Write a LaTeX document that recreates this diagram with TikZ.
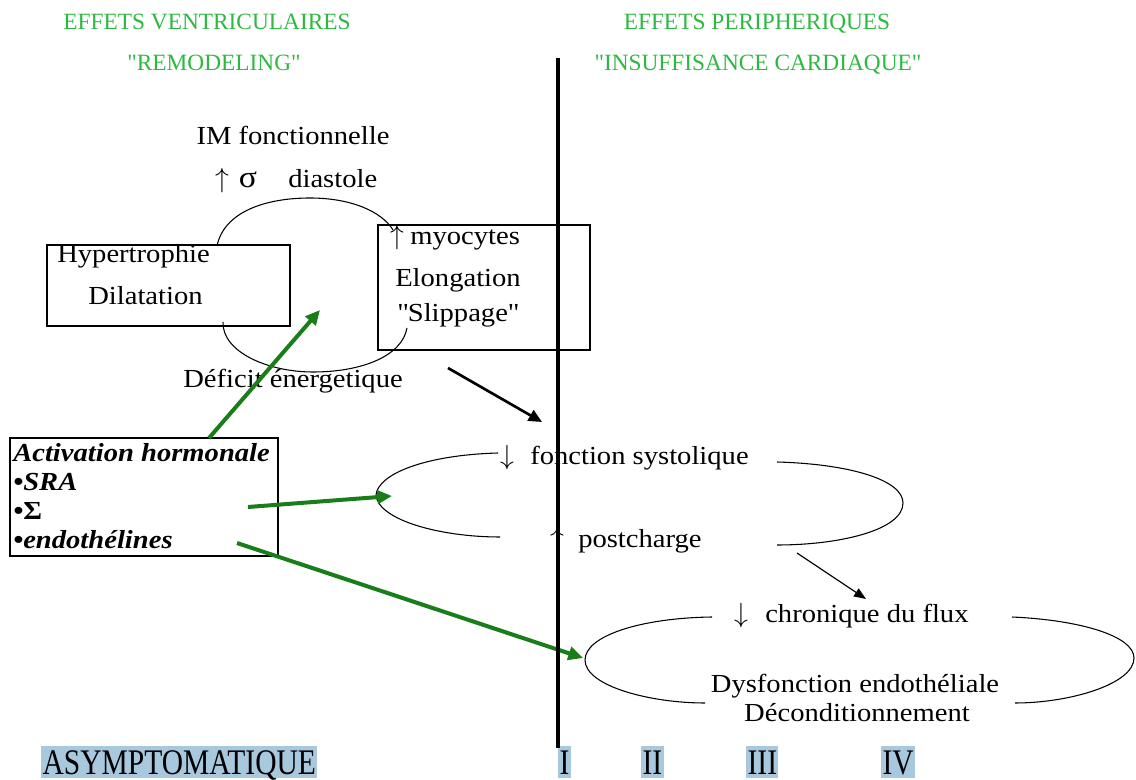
\documentclass[tikz,border=0pt]{standalone}
\usepackage{fontspec}
\setmainfont{Liberation Serif}[FakeStretch=1.1]
\newfontfamily\hdrfont{Liberation Serif}
\newfontfamily\condfont{Liberation Serif}[FakeStretch=0.82]
\usetikzlibrary{arrows.meta}
\definecolor{hdrgreen}{RGB}{45,185,65}
\definecolor{arrowgreen}{RGB}{25,125,25}
\definecolor{hlblue}{RGB}{168,200,222}
\newcommand{\uparr}{\(\uparrow\)}
\newcommand{\dnarr}{\(\downarrow\)}
\begin{document}
\begin{tikzpicture}[x=0.75pt,y=-0.75pt,
  txt/.style={inner sep=0pt, font=\fontsize{19.5pt}{21pt}\selectfont},
  hdr/.style={inner sep=0pt, text=hdrgreen, font=\hdrfont\fontsize{17.5pt}{19pt}\selectfont},
  hl/.style={inner sep=0pt, inner xsep=1pt, fill=hlblue, text height=21pt, text depth=3pt, font=\condfont\fontsize{27pt}{30pt}\selectfont},
  act/.style={inner sep=0pt, font=\fontsize{19.5pt}{21pt}\selectfont\bfseries\itshape},
  box/.style={draw, line width=1pt},
  loopline/.style={line width=0.8pt},
  garrow/.style={draw=arrowgreen, line width=3pt, -{Triangle[length=11pt,width=10pt]}},
  barrow/.style={line width=2pt, -{Triangle[length=10pt,width=9pt]}},
  tharrow/.style={line width=0.9pt, -{Triangle[length=9pt,width=7pt]}}]
\useasboundingbox (0,0) rectangle (1136,780);

% headers
\node[hdr,anchor=base] (h1) at (207,30) {EFFETS VENTRICULAIRES};
\node[hdr,anchor=base] (h2) at (214,71) {\textquotedbl REMODELING\textquotedbl};
\node[hdr,anchor=base] (h3) at (757,30) {EFFETS PERIPHERIQUES};
\node[hdr,anchor=base] (h4) at (758,71) {\textquotedbl INSUFFISANCE CARDIAQUE\textquotedbl};

% top-left loop
\node[txt,anchor=base] (im) at (293,145) {IM fonctionnelle};
\node[txt,anchor=base] (up1) at (222,188) {\uparr};
\node[txt,anchor=base,font=\fontsize{23pt}{24pt}\selectfont] (sig) at (248,188) {σ};
\node[txt,anchor=base west] (dia) at (288,188) {diastole};

\coordinate (b1a) at (47,245);
\coordinate (b1b) at (290,326);
\draw[box] (b1a) rectangle (b1b);
\node[txt,anchor=base west] (hyp) at (57,263) {Hypertrophie};
\node[txt,anchor=base west] (dil) at (88,305) {Dilatation};

\coordinate (b2a) at (378,225);
\coordinate (b2b) at (590,350);
\draw[box] (b2a) rectangle (b2b);
\node[txt,anchor=base] (up2) at (397,245) {\uparr};
\node[txt,anchor=base west] (myo) at (410,245) {myocytes};
\node[txt,anchor=base west] (elo) at (395,287) {Elongation};
\node[txt,anchor=base west] (sli) at (397,322) {\textquotedbl Slippage\textquotedbl};
\node[txt,anchor=base] (def) at (293,388) {Déficit énergetique};

\coordinate (t1) at (217,246);
\coordinate (t2) at (310,198);
\coordinate (t3) at (393,230);
\draw[loopline] (t1) .. controls (224,212) and (265,198) .. (t2)
                     .. controls (352,198) and (382,212) .. (t3);
\coordinate (u1) at (223,322);
\coordinate (u2) at (313,372);
\coordinate (u3) at (407,328);
\draw[loopline] (u1) .. controls (222,352) and (268,372) .. (u2)
                     .. controls (362,372) and (402,356) .. (u3);

% activation box
\coordinate (aa) at (10,438);
\coordinate (ab) at (278,556);
\draw[box] (aa) rectangle (ab);
\node[act,anchor=base west] (a1) at (13,462) {Activation hormonale};
\node[act,anchor=base west] (a2) at (13,491) {•SRA};
\node[act,anchor=base west] (a3) at (13,520) {•{\upshape Σ}};
\node[act,anchor=base west] (a4) at (13,548) {•endothélines};

% middle loop
\node[txt,anchor=base] (dn1) at (507,465) {\dnarr};
\node[txt,anchor=base west] (fs) at (530,465) {fonction systolique};
\node[txt,anchor=base] (up3) at (557,547) {\uparr};
\node[txt,anchor=base west] (pc) at (578,547) {postcharge};
\coordinate (m1) at (498,453);
\coordinate (m2) at (376,495);
\coordinate (m3) at (500,537);
\draw[loopline] (m1) .. controls (425,455) and (378,474) .. (m2)
                     .. controls (378,520) and (440,537) .. (m3);
\coordinate (n1) at (777,462);
\coordinate (n2) at (903,503);
\coordinate (n3) at (777,545);
\draw[loopline] (n1) .. controls (850,464) and (903,480) .. (n2)
                     .. controls (903,530) and (840,545) .. (n3);

% bottom loop
\node[txt,anchor=base] (dn2) at (741,622) {\dnarr};
\node[txt,anchor=base west] (chr) at (765,622) {chronique du flux};
\node[txt,anchor=base] (dys) at (855,692) {Dysfonction endothéliale};
\node[txt,anchor=base] (dec) at (857,721) {Déconditionnement};
\coordinate (p1) at (712,617);
\coordinate (p2) at (585,660);
\coordinate (p3) at (705,703);
\draw[loopline] (p1) .. controls (640,618) and (585,636) .. (p2)
                     .. controls (585,686) and (650,703) .. (p3);
\coordinate (q1) at (1012,617);
\coordinate (q2) at (1134,658);
\coordinate (q3) at (1015,703);
\draw[loopline] (q1) .. controls (1080,620) and (1134,636) .. (q2)
                     .. controls (1134,684) and (1070,703) .. (q3);

% arrows
\coordinate (g1s) at (209,438);
\coordinate (g1e) at (320,310);
\draw[garrow] (g1s) -- (g1e);
\coordinate (g2s) at (248,507);
\coordinate (g2e) at (392,496);
\draw[garrow] (g2s) -- (g2e);
\coordinate (g3s) at (237,543);
\coordinate (g3e) at (583,658);
\draw[garrow] (g3s) -- (g3e);
\coordinate (k1s) at (448,368);
\coordinate (k1e) at (542,422);
\draw[barrow] (k1s) -- (k1e);
\coordinate (k2s) at (797,553);
\coordinate (k2e) at (866,599);
\draw[tharrow] (k2s) -- (k2e);

% bottom scale
\node[hl,anchor=base west] (asy) at (41,774) {ASYMPTOMATIQUE};
\node[hl,anchor=base west] (s1) at (558,774) {I};
\node[hl,anchor=base west] (s2) at (641,774) {II};
\node[hl,anchor=base west] (s3) at (746,774) {III};
\node[hl,anchor=base west] (s4) at (881,774) {IV};

% vertical divider
\coordinate (vt) at (558,58);
\coordinate (vb) at (558,748);
\draw[line width=2.5pt] (vt) -- (vb);
\end{tikzpicture}
\end{document}
